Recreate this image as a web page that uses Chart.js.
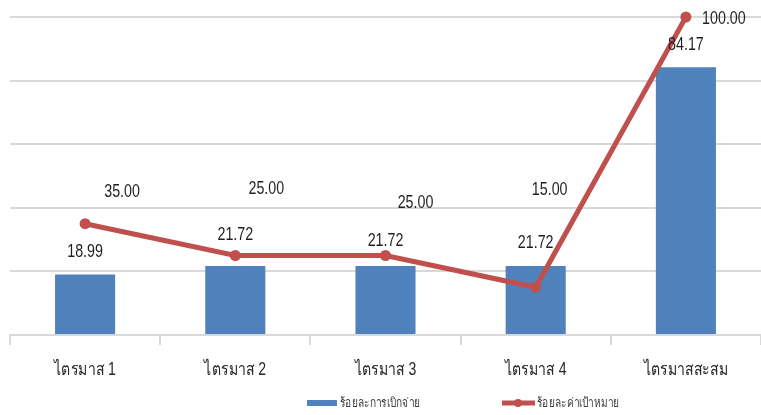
<!DOCTYPE html>
<html>
<head>
<meta charset="utf-8">
<script src="https://cdn.jsdelivr.net/npm/chart.js@4/dist/chart.umd.min.js"></script>
<style>
  html, body { margin: 0; padding: 0; background: #fff; overflow: hidden; }
  #wrap { width: 761px; height: 415px; }
  canvas { display: block; }
</style>
</head>
<body>
<div id="wrap"><canvas id="chart"></canvas></div>
<script>
const categories = ["ไตรมาส 1", "ไตรมาส 2", "ไตรมาส 3", "ไตรมาส 4", "ไตรมาสสะสม"];
const spentPct = [18.99, 21.72, 21.72, 21.72, 84.17];
const targetPct = [35, 25, 25, 15, 100];
const seriesNames = ["ร้อยละการเบิกจ่าย", "ร้อยละค่าเป้าหมาย"];

const fontFamily = "'Liberation Sans', 'Noto Sans', sans-serif";
const textColor = "#1f1f1f";
const barColor = "#4f81bd";
const lineColor = "#c0504d";

// the original text is squeezed sideways, so draw it narrow
function narrowText(ctx, text, x, y, sx, align) {
  ctx.save();
  ctx.translate(x, y);
  ctx.scale(sx, 1);
  ctx.textAlign = align || "center";
  ctx.fillText(text, 0, 0);
  ctx.restore();
}

const valueLabels = {
  id: "valueLabels",
  afterDatasetsDraw(chart) {
    const ctx = chart.ctx;
    const barOffsets = [23, 31, 25, 23, 23];
    const lineOffsets = [[37, -32], [31, -67], [30, -53], [14, -98], [38, 2]];
    ctx.save();
    ctx.font = "19px " + fontFamily;
    ctx.fillStyle = textColor;
    ctx.textBaseline = "middle";
    chart.getDatasetMeta(0).data.forEach((bar, i) => {
      narrowText(ctx, spentPct[i].toFixed(2), bar.x, bar.y - barOffsets[i], 0.75);
    });
    chart.getDatasetMeta(1).data.forEach((pt, i) => {
      narrowText(ctx, targetPct[i].toFixed(2), pt.x + lineOffsets[i][0], pt.y + lineOffsets[i][1], 0.75);
    });

    // category names under the axis
    const xs = chart.scales.x;
    ctx.font = "18px " + fontFamily;
    ctx.fillStyle = "#262626";
    categories.forEach((c, i) => {
      narrowText(ctx, c, xs.getPixelForValue(i), chart.chartArea.bottom + 35, 0.78);
    });

    // legend
    const ly = chart.chartArea.bottom + 68;
    ctx.font = "13px " + fontFamily;
    ctx.fillStyle = barColor;
    ctx.fillRect(307, ly - 3, 30, 6);
    ctx.fillStyle = "#404040";
    narrowText(ctx, seriesNames[0], 340, ly, 0.78, "left");
    ctx.strokeStyle = lineColor;
    ctx.lineWidth = 5;
    ctx.beginPath();
    ctx.moveTo(502, ly);
    ctx.lineTo(535, ly);
    ctx.stroke();
    ctx.fillStyle = lineColor;
    ctx.beginPath();
    ctx.arc(518, ly, 4, 0, Math.PI * 2);
    ctx.fill();
    ctx.fillStyle = "#404040";
    narrowText(ctx, seriesNames[1], 537, ly, 0.78, "left");
    ctx.restore();
  },
};

new Chart(document.getElementById("chart"), {
  data: {
    labels: categories,
    datasets: [
      {
        type: "bar",
        label: seriesNames[0],
        data: spentPct,
        backgroundColor: barColor,
        categoryPercentage: 0.8,
        barPercentage: 0.5,
        order: 2,
      },
      {
        type: "line",
        label: seriesNames[1],
        data: targetPct,
        borderColor: lineColor,
        backgroundColor: lineColor,
        borderWidth: 5,
        pointRadius: 5.5,
        pointBackgroundColor: lineColor,
        pointBorderWidth: 0,
        clip: false,
        order: 1,
      },
    ],
  },
  plugins: [valueLabels],
  options: {
    responsive: true,
    maintainAspectRatio: false,
    animation: false,
    layout: { autoPadding: false, padding: { left: 10, right: 0, top: 17, bottom: 70 } },
    plugins: {
      tooltip: { enabled: false },
      legend: { display: false },
    },
    scales: {
      x: {
        grid: {
          drawOnChartArea: false,
          drawTicks: true,
          tickLength: 10,
          color: "#d9d9d9",
          lineWidth: 2,
        },
        border: { color: "#d9d9d9", width: 2 },
        ticks: { display: false },
      },
      y: {
        min: 0,
        max: 100,
        ticks: { display: false, stepSize: 20 },
        border: { display: false },
        grid: { color: "#d9d9d9", lineWidth: 2, drawTicks: false },
      },
    },
  },
});
</script>
</body>
</html>
